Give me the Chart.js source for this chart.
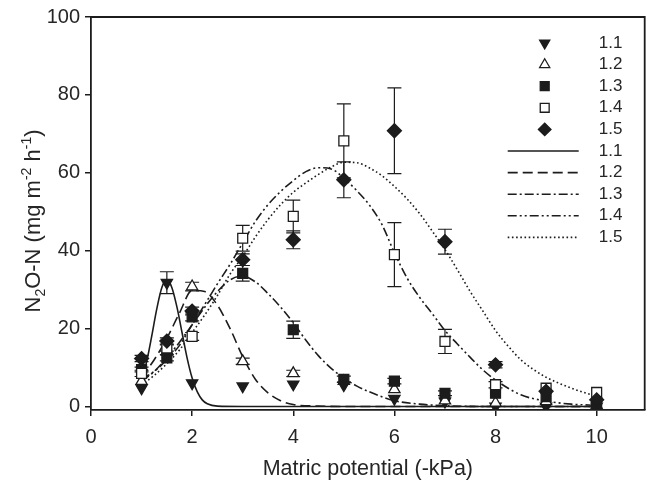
<!DOCTYPE html>
<html>
<head>
<meta charset="utf-8">
<script src="https://cdn.jsdelivr.net/npm/chart.js@4/dist/chart.umd.min.js"></script>
<style>
  html, body { margin: 0; padding: 0; background: #fff; }
</style>
</head>
<body>
<canvas id="chart" width="653" height="488"></canvas>
<script>
// measured points (x = matric potential, -kPa)
const xPts = [1, 1.5, 2, 3, 4, 5, 6, 7, 8, 9, 10];
const y11 = [4.7, 31.8, 6, 5.2, 5.7, 5.5, 2, 1.3, 0, 0, 0];
const e11 = [0.5, 2.8, 0.5, 0.5, 0.5, 0.5, 0.5, 0.4, 0, 0, 0];
const y12 = [6.5, 14, 30.8, 11.6, 8.5, 6.5, 4.4, 1.5, 0.9, 1.3, 0.3];
const e12 = [0.5, 0.5, 1.1, 0.8, 0.8, 0.5, 0.5, 0.4, 0.3, 0.3, 0];
const y13 = [9.5, 12.5, 23, 34.2, 19.7, 7, 6.5, 3.4, 3.4, 2.5, 1];
const e13 = [0.6, 0.8, 1, 2, 2.2, 0.8, 0.7, 0.6, 0.5, 0.4, 0.3];
const y14 = [8.5, 15, 18, 43.2, 48.8, 68.2, 39, 16.7, 5.6, 4.7, 3.6];
const e14 = [0.8, 0.8, 1, 3.3, 4.2, 9.5, 8.2, 3.1, 0.8, 0.5, 0.4];
const y15 = [12.3, 16.8, 24.5, 37.7, 42.8, 58.2, 70.8, 42.3, 10.7, 3.9, 1.7];
const e15 = [0.8, 0.8, 1, 1.5, 2.3, 4.6, 11, 3.2, 0.8, 0.5, 0.4];

// fitted curves
const c11x = [1, 1.1, 1.2, 1.3, 1.4, 1.5, 1.6, 1.7, 1.8, 1.9, 2, 2.1, 2.2, 2.3, 2.5, 3, 4, 5, 6, 7, 8, 9, 10];
const c11y = [6.8, 11.5, 18, 25, 30.5, 32.5, 30.5, 25.5, 19, 12.5, 7.3, 3.8, 1.7, 0.7, 0.1, 0, 0, 0, 0, 0, 0, 0, 0];
const c12x = [1, 1.25, 1.5, 1.75, 2, 2.25, 2.5, 2.75, 3, 3.25, 3.5, 3.75, 4, 4.5, 5, 6, 7, 8, 9, 10];
const c12y = [7.5, 12, 17.5, 24, 29.8, 29.5, 26, 20, 12.8, 7, 3.5, 1.5, 0.5, 0.1, 0, 0, 0, 0, 0, 0];
const c13x = [1, 1.25, 1.5, 1.75, 2, 2.25, 2.5, 2.75, 3, 3.25, 3.5, 3.75, 4, 4.25, 4.5, 4.75, 5, 5.25, 5.5, 6, 6.5, 7, 8, 9, 10];
const c13y = [6.5, 9, 12.5, 16.5, 21, 25.5, 29.5, 32.5, 33.5, 32, 29, 25.5, 21.5, 17, 13, 9.8, 7.3, 5.3, 3.8, 1.5, 0.6, 0.2, 0, 0, 0];
const c14x = [1, 1.25, 1.5, 1.75, 2, 2.25, 2.5, 2.75, 3, 3.25, 3.5, 3.75, 4, 4.25, 4.5, 4.75, 5, 5.25, 5.5, 5.75, 6, 6.25, 6.5, 6.75, 7, 7.25, 7.5, 7.75, 8, 8.5, 9, 9.5, 10];
const c14y = [7, 9, 12, 15.7, 21, 26.2, 31.5, 36.5, 42, 47.5, 51.8, 55.2, 58, 60.3, 61.3, 61, 58.6, 55.5, 51.8, 46.8, 39.5, 33, 28, 23.8, 19.5, 16, 12.6, 9.4, 6.8, 3, 1.4, 0.6, 0.3];
const c15x = [1, 1.25, 1.5, 1.75, 2, 2.25, 2.5, 2.75, 3, 3.25, 3.5, 3.75, 4, 4.25, 4.5, 4.75, 5, 5.25, 5.5, 5.75, 6, 6.25, 6.5, 6.75, 7, 7.25, 7.5, 7.75, 8, 8.25, 8.5, 8.75, 9, 9.25, 9.5, 9.75, 10];
const c15y = [5.5, 8, 11, 14.5, 19, 23.5, 28.5, 34, 38.5, 43.5, 48, 51.8, 55, 57.4, 59.6, 61.5, 62.7, 62.6, 61.3, 59.3, 56.5, 53.3, 49.5, 45, 40.3, 35, 29.5, 24.5, 19.5, 15.5, 12, 9.5, 7.5, 6, 4.7, 3.6, 2.6];

const xTicks = [0, 2, 4, 6, 8, 10];
const yTicks = [0, 20, 40, 60, 80, 100];

const fam = "'Liberation Sans', Arial, sans-serif";
const ink = '#1c1c1c';
const txt = '#262626';

function pts(xs, ys) {
  return xs.map((x, i) => ({ x: x, y: ys[i] }));
}

function markers(label, ys, errs, style, radius, filled, rot) {
  return {
    label: label,
    data: pts(xPts, ys),
    errors: errs,
    showLine: false,
    pointStyle: style,
    pointRadius: radius,
    pointHoverRadius: radius,
    pointRotation: rot || 0,
    pointBackgroundColor: filled ? ink : '#fff',
    pointBorderColor: ink,
    pointBorderWidth: 1.3,
    isMarker: true
  };
}

function curve(label, xs, ys, dash) {
  return {
    label: label,
    data: pts(xs, ys),
    showLine: true,
    pointRadius: 0,
    pointHoverRadius: 0,
    borderColor: ink,
    borderWidth: 1.6,
    borderDash: dash,
    cubicInterpolationMode: 'monotone',
    fill: false,
    isCurve: true
  };
}

// dataset 0 is painted last, so 1.5 sits on top
const datasets = [
  markers('1.5', y15, e15, 'rectRot', 7, true),
  markers('1.4', y14, e14, 'rect', 7, false),
  markers('1.3', y13, e13, 'rect', 7, true),
  markers('1.2', y12, e12, 'triangle', 6.5, false),
  markers('1.1', y11, e11, 'triangle', 6.5, true, 180),
  curve('1.1', c11x, c11y, []),
  curve('1.2', c12x, c12y, [10, 5]),
  curve('1.3', c13x, c13y, [9, 3, 2, 3]),
  curve('1.4', c14x, c14y, [9, 3, 2, 3, 2, 3]),
  curve('1.5', c15x, c15y, [1.6, 2.6])
];

const errorBars = {
  id: 'errorBars',
  beforeDatasetsDraw(chart) {
    const ctx = chart.ctx, xs = chart.scales.x, ys = chart.scales.y;
    ctx.save();
    ctx.strokeStyle = ink;
    ctx.lineWidth = 1.2;
    chart.data.datasets.forEach(ds => {
      if (!ds.errors) return;
      ds.data.forEach((p, i) => {
        const e = ds.errors[i];
        if (!e || e < 0.6) return;
        const px = xs.getPixelForValue(p.x);
        const top = ys.getPixelForValue(p.y + e);
        const bot = ys.getPixelForValue(Math.max(p.y - e, ys.min));
        ctx.beginPath();
        ctx.moveTo(px, top); ctx.lineTo(px, bot);
        ctx.moveTo(px - 7, top); ctx.lineTo(px + 7, top);
        ctx.moveTo(px - 7, bot); ctx.lineTo(px + 7, bot);
        ctx.stroke();
      });
    });
    ctx.restore();
  }
};

const frame = {
  id: 'frame',
  afterDraw(chart) {
    const ctx = chart.ctx, a = chart.chartArea;
    ctx.save();
    ctx.strokeStyle = ink;
    ctx.lineWidth = 1.8;
    ctx.beginPath();
    ctx.moveTo(a.left, a.top); ctx.lineTo(a.right, a.top); ctx.lineTo(a.right, a.bottom);
    ctx.stroke();

    // legend
    const mx = a.right - 100, lx0 = a.right - 137, lx1 = a.right - 66, tx = a.right - 46;
    let y = a.top + 26;
    const step = 21.6;
    ctx.font = '17px ' + fam;
    ctx.textBaseline = 'middle';
    const mk = chart.data.datasets.filter(d => d.isMarker).slice().reverse();
    const cv = chart.data.datasets.filter(d => d.isCurve);
    mk.forEach(ds => {
      ctx.fillStyle = ds.pointBackgroundColor;
      ctx.strokeStyle = ds.pointBorderColor;
      ctx.lineWidth = ds.pointBorderWidth;
      Chart.helpers.drawPoint(ctx, {
        pointStyle: ds.pointStyle, rotation: ds.pointRotation,
        radius: ds.pointRadius * 0.9, borderWidth: ds.pointBorderWidth
      }, mx, y);
      ctx.fillStyle = txt;
      ctx.fillText(ds.label, tx, y);
      y += step;
    });
    cv.forEach(ds => {
      ctx.strokeStyle = ds.borderColor;
      ctx.lineWidth = ds.borderWidth;
      ctx.setLineDash(ds.borderDash);
      ctx.beginPath();
      ctx.moveTo(lx0, y); ctx.lineTo(lx1, y);
      ctx.stroke();
      ctx.setLineDash([]);
      ctx.fillStyle = txt;
      ctx.fillText(ds.label, tx, y);
      y += step;
    });

    // axis titles
    ctx.fillStyle = txt;
    ctx.textAlign = 'center';
    ctx.textBaseline = 'alphabetic';
    ctx.font = '21.5px ' + fam;
    ctx.fillText('Matric potential (-kPa)', (a.left + a.right) / 2, 475);

    const parts = [['N', 0], ['2', 1], ['O-N (mg m', 0], ['-2', 2], [' h', 0], ['-1', 2], [')', 0]];
    const size = 22, small = 14;
    let total = 0;
    parts.forEach(p => { ctx.font = (p[1] ? small : size) + 'px ' + fam; total += ctx.measureText(p[0]).width; });
    ctx.translate(40, 221);
    ctx.rotate(-Math.PI / 2);
    ctx.textAlign = 'left';
    let x = -total / 2;
    parts.forEach(p => {
      ctx.font = (p[1] ? small : size) + 'px ' + fam;
      const dy = p[1] === 1 ? 5 : p[1] === 2 ? -9 : 0;
      ctx.fillText(p[0], x, dy);
      x += ctx.measureText(p[0]).width;
    });
    ctx.restore();
  }
};

Chart.defaults.font.family = fam;
Chart.defaults.color = txt;

new Chart(document.getElementById('chart'), {
  type: 'scatter',
  data: { datasets: datasets },
  options: {
    responsive: false,
    animation: false,
    devicePixelRatio: 1,
    layout: { padding: { top: 17, right: 3, left: 0, bottom: 0 } },
    plugins: { legend: { display: false }, tooltip: { enabled: false } },
    scales: {
      x: {
        type: 'linear',
        min: 0,
        max: 10.95,
        afterFit: s => { s.height = 78; },
        afterBuildTicks: s => { s.ticks = xTicks.map(v => ({ value: v })); },
        grid: { drawOnChartArea: false, drawTicks: true, tickLength: 6, color: ink, lineWidth: 1.5 },
        border: { color: ink, width: 1.8 },
        ticks: { font: { size: 20 }, padding: 9, color: txt }
      },
      y: {
        type: 'linear',
        min: -0.9,
        max: 100,
        afterFit: s => { s.width = 91; },
        afterBuildTicks: s => { s.ticks = yTicks.map(v => ({ value: v })); },
        grid: { drawOnChartArea: false, drawTicks: true, tickLength: 6, color: ink, lineWidth: 1.5 },
        border: { color: ink, width: 1.8 },
        ticks: { font: { size: 20 }, padding: 5, color: txt }
      }
    }
  },
  plugins: [errorBars, frame]
});
</script>
</body>
</html>
